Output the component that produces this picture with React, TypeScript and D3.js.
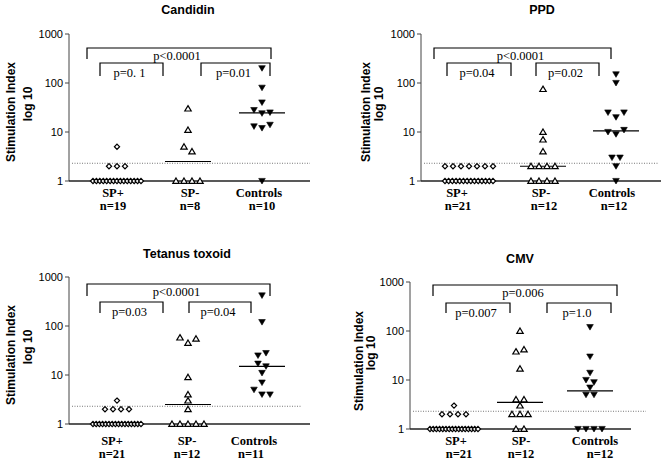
import React from 'react';
import * as d3 from 'd3';

const categories = ['SP+', 'SP-', 'Controls'];
const panelTitles = ['Candidin', 'PPD', 'Tetanus toxoid', 'CMV'];
const yTicks = [1, 10, 100, 1000];
const thresholdValue = 2.3;

// Candidin
const candidinSPpos = [5, 2, 2, 2, 1, 1, 1, 1, 1, 1, 1, 1, 1, 1, 1, 1, 1, 1, 1];
const candidinSPneg = [30, 11, 5, 4, 1, 1, 1, 1];
const candidinControls = [200, 80, 40, 28, 24, 25, 13, 12, 14, 1];
const candidinP = ['p<0.0001', 'p=0. 1', 'p=0.01'];

// PPD
const ppdSPpos = [2, 2, 2, 2, 2, 2, 2, 1, 1, 1, 1, 1, 1, 1, 1, 1, 1, 1, 1, 1, 1];
const ppdSPneg = [75, 10, 7, 4, 2, 2, 2, 2, 1, 1, 1, 1];
const ppdControls = [150, 100, 25, 20, 25, 10, 9, 11, 3, 3, 2, 1];
const ppdP = ['p<0.0001', 'p=0.04', 'p=0.02'];

// Tetanus toxoid
const tetanusSPpos = [3, 2, 2, 2, 2, 1, 1, 1, 1, 1, 1, 1, 1, 1, 1, 1, 1, 1, 1, 1, 1];
const tetanusSPneg = [58, 45, 55, 9, 4, 3, 2, 1, 1, 1, 1, 1];
const tetanusControls = [420, 120, 25, 28, 17, 15, 11, 7, 5, 4, 4];
const tetanusP = ['p<0.0001', 'p=0.03', 'p=0.04'];

// CMV
const cmvSPpos = [3, 2, 2, 2, 2, 1, 1, 1, 1, 1, 1, 1, 1, 1, 1, 1, 1, 1, 1, 1, 1];
const cmvSPneg = [100, 38, 42, 17, 4, 4, 3, 2, 2, 2, 1, 1];
const cmvControls = [120, 30, 14, 10, 9, 7, 5, 5, 1, 1, 1, 1];
const cmvP = ['p=0.006', 'p=0.007', 'p=1.0'];

const panelData = [
  [candidinSPpos, candidinSPneg, candidinControls],
  [ppdSPpos, ppdSPneg, ppdControls],
  [tetanusSPpos, tetanusSPneg, tetanusControls],
  [cmvSPpos, cmvSPneg, cmvControls],
];
const panelP = [candidinP, ppdP, tetanusP, cmvP];

type Layout = {
  ax: number; xEnd: number; yTop: number; yBot: number; centers: number[];
  titleX: number; titleY: number;
  outer: number[]; left: number[]; right: number[];
  dotEnd: number; labelX: number[]; nX: number[]; labelY: number; nY: number;
  ylabX: number[]; ylabY: number;
};

const layouts: Layout[] = [
  { ax: 69, xEnd: 310, yTop: 34, yBot: 181, centers: [117, 188, 262], titleX: 188, titleY: 14,
    outer: [87, 271, 48, 59], left: [100, 163, 63, 76], right: [201, 270, 63, 76],
    dotEnd: 310, labelX: [113, 190, 259], nX: [113, 190, 262], labelY: 197, nY: 210,
    ylabX: [15, 32], ylabY: 112 },
  { ax: 421, xEnd: 661, yTop: 34, yBot: 181, centers: [469, 543, 616], titleX: 542, titleY: 14,
    outer: [434, 611, 48, 59], left: [447, 511, 63, 76], right: [536, 599, 63, 76],
    dotEnd: 658, labelX: [457, 541, 612], nX: [458, 544, 614], labelY: 197, nY: 210,
    ylabX: [370, 383], ylabY: 112 },
  { ax: 69, xEnd: 310, yTop: 277, yBot: 424, centers: [117, 188, 262], titleX: 187, titleY: 258,
    outer: [87, 270, 284, 296], left: [100, 163, 302, 313], right: [189, 251, 302, 313],
    dotEnd: 302, labelX: [112, 187, 254], nX: [112, 187, 251], labelY: 445, nY: 458,
    ylabX: [15, 32], ylabY: 355 },
  { ax: 410, xEnd: 631, yTop: 282, yBot: 429, centers: [454, 520, 590], titleX: 520, titleY: 263,
    outer: [433, 617, 285, 296], left: [446, 510, 303, 313], right: [547, 611, 303, 313],
    dotEnd: 646, labelX: [456, 521, 595], nX: [459, 521, 600], labelY: 445, nY: 458,
    ylabX: [363, 375], ylabY: 361 },
];

const SANS = 'Arial, "Liberation Sans", Helvetica, sans-serif';
const SERIF = '"Times New Roman", "Liberation Serif", Times, serif';

function swarm(values: number[], y: (v: number) => number, cx: number) {
  const idx = values.map((v, i) => i).sort((a, b) => values[b] - values[a] || a - b);
  const groups: number[][] = [];
  let cur: number[] = [];
  let firstY = 0;
  idx.forEach((i) => {
    const py = y(values[i]);
    if (cur.length && Math.abs(py - firstY) <= 6) {
      cur.push(i);
    } else {
      if (cur.length) groups.push(cur);
      cur = [i];
      firstY = py;
    }
  });
  if (cur.length) groups.push(cur);
  const out: { x: number; y: number; v: number }[] = [];
  groups.forEach((g) => {
    const ordered = [...g].sort((a, b) => a - b);
    const n = ordered.length;
    const sp = n > 1 ? Math.min(8, 48 / (n - 1)) : 0;
    ordered.forEach((i, k) => {
      out.push({ x: cx + (k - (n - 1) / 2) * sp, y: y(values[i]), v: values[i] });
    });
  });
  return out;
}

function Marker({ kind, x, y }: { kind: number; x: number; y: number }) {
  if (kind === 0) {
    const r = 2.6;
    return <path d={`M${x},${y - r}L${x + r},${y}L${x},${y + r}L${x - r},${y}Z`} fill="white" stroke="black" strokeWidth={1.2} />;
  }
  if (kind === 1) {
    return <path d={`M${x},${y - 3}L${x + 3.2},${y + 2.4}L${x - 3.2},${y + 2.4}Z`} fill="white" stroke="black" strokeWidth={1.2} />;
  }
  return <path d={`M${x - 3.3},${y - 2.6}L${x + 3.3},${y - 2.6}L${x},${y + 3}Z`} fill="black" stroke="black" strokeWidth={0.6} />;
}

function Bracket({ b, text, dy }: { b: number[]; text: string; dy: number }) {
  const [x0, x1, yt, yb] = b;
  return (
    <g>
      <path d={`M${x0},${yb}V${yt}H${x1}V${yb}`} fill="none" stroke="black" strokeWidth={1.2} />
      <text x={(x0 + x1) / 2 - 2} y={yt + dy} textAnchor="middle" fontFamily={SERIF} fontSize={12.5}>{text}</text>
    </g>
  );
}

function Panel({ p }: { p: number }) {
  const L = layouts[p];
  const data = panelData[p];
  const pv = panelP[p];
  const y = d3.scaleLog().domain([1, 1000]).range([L.yBot, L.yTop]);
  const x = d3.scaleOrdinal<string, number>().domain(categories).range(L.centers);
  return (
    <g>
      <text x={L.titleX} y={L.titleY} textAnchor="middle" fontFamily={SANS} fontWeight="bold" fontSize={12.5}>{panelTitles[p]}</text>
      <g transform={`translate(${L.ylabX[0]},${L.ylabY}) rotate(-90)`}>
        <text textAnchor="middle" fontFamily={SANS} fontWeight="bold" fontSize={12}>Stimulation Index</text>
      </g>
      <g transform={`translate(${L.ylabX[1]},${L.ylabY - 8}) rotate(-90)`}>
        <text textAnchor="middle" fontFamily={SANS} fontWeight="bold" fontSize={12}>log 10</text>
      </g>
      {/* y axis */}
      <line x1={L.ax} x2={L.ax} y1={y(1000)} y2={y(1)} stroke="#444" strokeWidth={1} />
      {yTicks.map((t) => (
        <g key={t}>
          <line x1={L.ax - 4} x2={L.ax} y1={y(t)} y2={y(t)} stroke="#444" strokeWidth={1} />
          <text x={L.ax - 6} y={y(t) + 4} textAnchor="end" fontFamily={SANS} fontSize={11}>{t}</text>
        </g>
      ))}
      {/* threshold */}
      <line x1={L.ax + 3} x2={L.dotEnd} y1={y(thresholdValue)} y2={y(thresholdValue)} stroke="#555" strokeWidth={0.8} strokeDasharray="1,1.5" />
      {/* x axis */}
      <line x1={L.ax} x2={L.xEnd} y1={y(1)} y2={y(1)} stroke="#222" strokeWidth={1.4} />
      {/* medians */}
      {categories.map((c, i) => {
        const m = d3.median(data[i]) as number;
        return <line key={c} x1={(x(c) as number) - 23} x2={(x(c) as number) + 23} y1={y(m)} y2={y(m)} stroke="black" strokeWidth={1.2} />;
      })}
      {/* points */}
      {categories.map((c, i) =>
        swarm(data[i], (v) => y(v), x(c) as number).map((pt, k) => (
          <Marker key={c + k} kind={i} x={pt.x} y={pt.y} />
        ))
      )}
      {/* brackets */}
      <Bracket b={L.outer} text={pv[0]} dy={11.5} />
      <Bracket b={L.left} text={pv[1]} dy={14} />
      <Bracket b={L.right} text={pv[2]} dy={14} />
      {/* category labels */}
      {categories.map((c, i) => (
        <g key={c}>
          <text x={L.labelX[i]} y={L.labelY} textAnchor="middle" fontFamily={SERIF} fontWeight="bold" fontSize={12.5}>{c}</text>
          <text x={L.nX[i]} y={L.nY} textAnchor="middle" fontFamily={SERIF} fontWeight="bold" fontSize={12.5}>{`n=${data[i].length}`}</text>
        </g>
      ))}
    </g>
  );
}

export default function App() {
  return (
    <svg width={666} height={461} viewBox="0 0 666 461" style={{ position: 'absolute', left: 0, top: 0, background: 'white' }}>
      <rect width={666} height={461} fill="white" />
      {[0, 1, 2, 3].map((p) => <Panel key={p} p={p} />)}
    </svg>
  );
}
